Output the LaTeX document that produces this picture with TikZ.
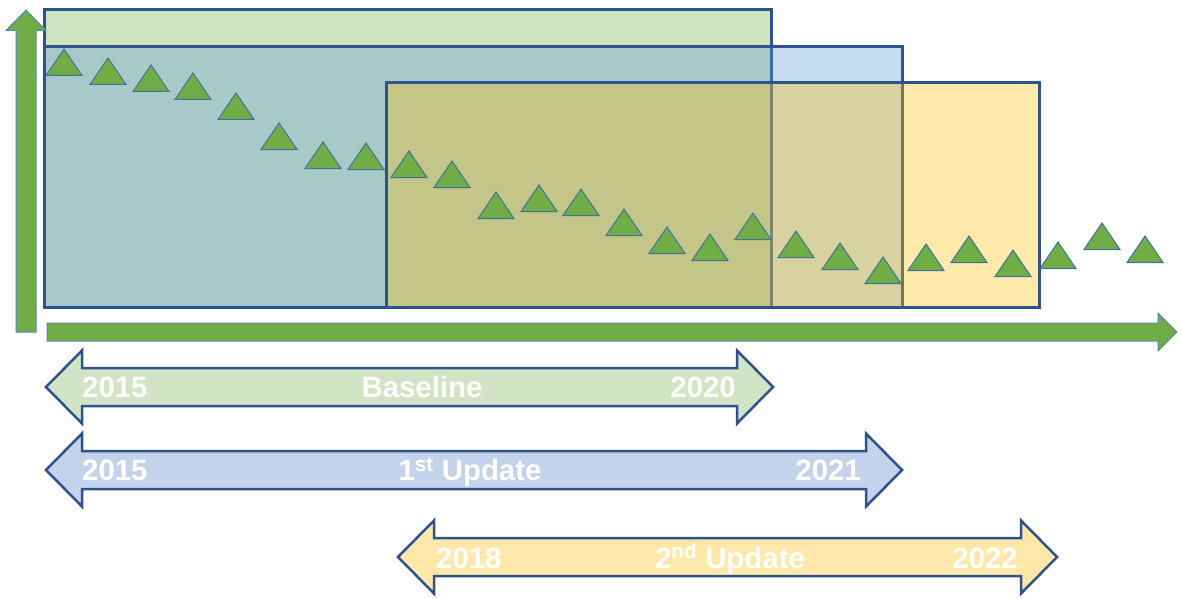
\documentclass[tikz,border=0pt]{standalone}
\usepackage{fontspec}
\setmainfont{Liberation Sans}
\definecolor{axisgreen}{HTML}{70AD47}
\definecolor{axisline}{HTML}{5B86B0}
\definecolor{triline}{HTML}{41719C}
\definecolor{frameblue}{HTML}{2F528F}
\definecolor{planblue}{HTML}{5B9BD5}
\definecolor{planyellow}{HTML}{FFC000}
\definecolor{basefill}{HTML}{D1E4C5}
\definecolor{firstfill}{HTML}{C3D3EB}
\definecolor{secondfill}{HTML}{FFE8AA}
\begin{document}
\begin{tikzpicture}[x=1pt,y=-1pt,
  axis/.style={fill=axisgreen,draw=axisline,line width=1},
  period/.style={draw=frameblue,line width=3},
  span/.style={draw=frameblue,line width=2.5},
  value/.style={fill=axisgreen,draw=triline,line width=1},
  yearlbl/.style={text=white,font=\fontsize{29.4}{32}\selectfont\bfseries,inner sep=0}]
\useasboundingbox (0,0) rectangle (1182,599);
\draw[period,fill=axisgreen,fill opacity=0.33] (44,10) rectangle (771,307);
\draw[period,fill=planblue,fill opacity=0.35] (44,47) rectangle (902,307);
\draw[period,fill=planyellow,fill opacity=0.33] (386,83) rectangle (1039,307);
\foreach \x/\y in {64/49,108/58,151/65,193/73,236/93,279/123,323/142,366/143,
  409/151,452/161,496/192,539/185,581/189,624/209,667/227,710/234,753/213,
  796/231,840/243,883/257,926/244,969/236,1013/250,1058/242,1102/223,1145/236}
  \draw[value] (\x,\y) -- ++(18,26.5) -- ++(-36,0) -- cycle;
\draw[axis] (16,332) -- (16,30.5) -- (6,30.5) -- (26,10) -- (46,30.5) -- (36,30.5) -- (36,332) -- cycle;
\draw[axis] (47,323) -- (1158,323) -- (1158,313) -- (1177,332) -- (1158,351) -- (1158,341) -- (47,341) -- cycle;
\foreach \xl/\xr/\yc/\col in {46/773/387/basefill,46/902/470/firstfill,398/1057/557/secondfill}
  \draw[span,fill=\col] (\xl,\yc) -- (\xl+36,\yc-36.5) -- (\xl+36,\yc-19) -- (\xr-36,\yc-19)
    -- (\xr-36,\yc-36.5) -- (\xr,\yc) -- (\xr-36,\yc+36.5) -- (\xr-36,\yc+19)
    -- (\xl+36,\yc+19) -- (\xl+36,\yc+36.5) -- cycle;
\node[yearlbl,anchor=base west] (basefrom) at (82,397) {2015};
\node[yearlbl,anchor=base] (basename) at (422,397) {Baseline};
\node[yearlbl,anchor=base east] (baseto) at (736,397) {2020};
\node[yearlbl,anchor=base west] (firstfrom) at (82,480.5) {2015};
\node[yearlbl,anchor=base] (firstname) at (470,480.5) {1\textsuperscript{st} Update};
\node[yearlbl,anchor=base east] (firstto) at (861,480.5) {2021};
\node[yearlbl,anchor=base west] (secondfrom) at (436,568) {2018};
\node[yearlbl,anchor=base] (secondname) at (730,568) {2\textsuperscript{nd} Update};
\node[yearlbl,anchor=base east] (secondto) at (1018,568) {2022};
\end{tikzpicture}
\end{document}
